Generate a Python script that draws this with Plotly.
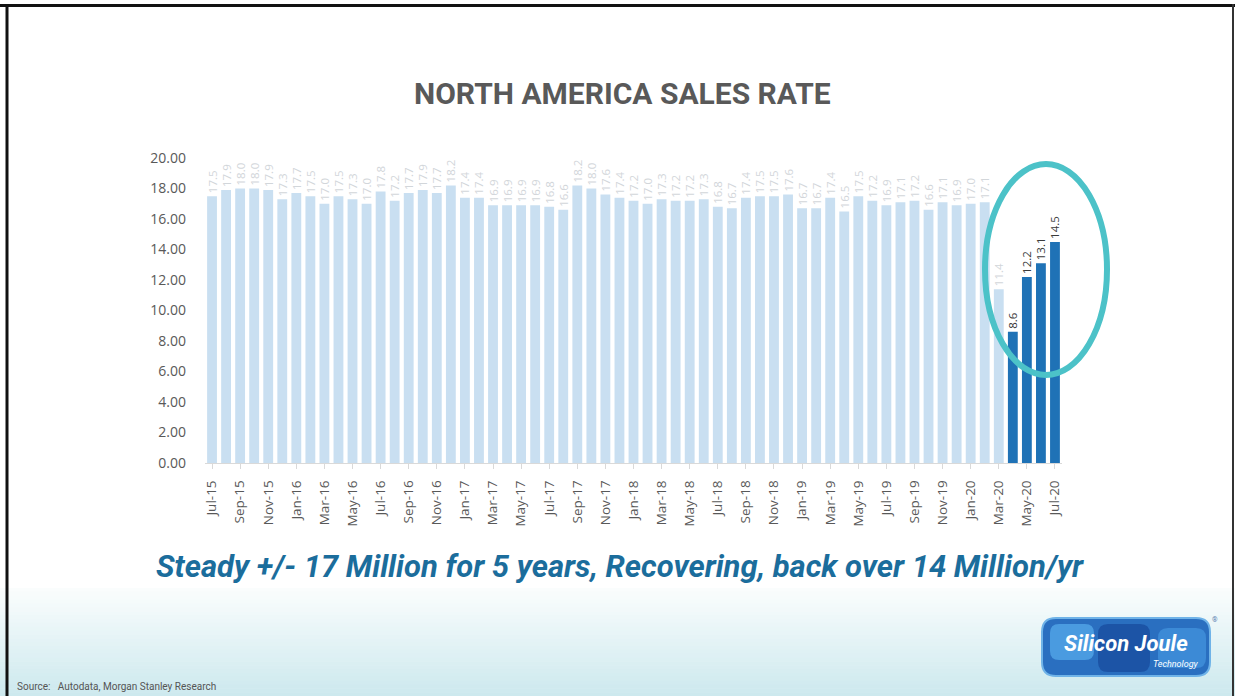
import plotly.graph_objects as go

months = ["Jul-15","Aug-15","Sep-15","Oct-15","Nov-15","Dec-15",
          "Jan-16","Feb-16","Mar-16","Apr-16","May-16","Jun-16","Jul-16","Aug-16","Sep-16","Oct-16","Nov-16","Dec-16",
          "Jan-17","Feb-17","Mar-17","Apr-17","May-17","Jun-17","Jul-17","Aug-17","Sep-17","Oct-17","Nov-17","Dec-17",
          "Jan-18","Feb-18","Mar-18","Apr-18","May-18","Jun-18","Jul-18","Aug-18","Sep-18","Oct-18","Nov-18","Dec-18",
          "Jan-19","Feb-19","Mar-19","Apr-19","May-19","Jun-19","Jul-19","Aug-19","Sep-19","Oct-19","Nov-19","Dec-19",
          "Jan-20","Feb-20","Mar-20","Apr-20","May-20","Jun-20","Jul-20"]
sales = [17.5,17.9,18.0,18.0,17.9,17.3,
         17.7,17.5,17.0,17.5,17.3,17.0,17.8,17.2,17.7,17.9,17.7,18.2,
         17.4,17.4,16.9,16.9,16.9,16.9,16.8,16.6,18.2,18.0,17.6,17.4,
         17.2,17.0,17.3,17.2,17.2,17.3,16.8,16.7,17.4,17.5,17.5,17.6,
         16.7,16.7,17.4,16.5,17.5,17.2,16.9,17.1,17.2,16.6,17.1,16.9,
         17.0,17.1,11.4,8.6,12.2,13.1,14.5]
highlight_months = ["Apr-20","May-20","Jun-20","Jul-20"]
tick_labels = months[::2]
y_ticks = [0,2,4,6,8,10,12,14,16,18,20]

LIGHT = "#c9dff1"
DARK = "#1f72b6"
bar_colors = [DARK if m in highlight_months else LIGHT for m in months]
text_colors = ["#3a3a3a" if m in highlight_months else "#d2d6da" for m in months]

L, R, T, B = 205, 173, 158, 233
W, H = 1235, 696
PW, PH = W - L - R, H - T - B

def px(x):
    return (x - L) / PW

def py(y):
    return (H - B - y) / PH

def rounded(x0, y0, x1, y1, r):
    # rounded rectangle path in paper coordinates (inputs in pixels)
    pts = [
        f"M {px(x0 + r)} {py(y0)}",
        f"L {px(x1 - r)} {py(y0)}",
        f"Q {px(x1)} {py(y0)} {px(x1)} {py(y0 + r)}",
        f"L {px(x1)} {py(y1 - r)}",
        f"Q {px(x1)} {py(y1)} {px(x1 - r)} {py(y1)}",
        f"L {px(x0 + r)} {py(y1)}",
        f"Q {px(x0)} {py(y1)} {px(x0)} {py(y1 - r)}",
        f"L {px(x0)} {py(y0 + r)}",
        f"Q {px(x0)} {py(y0)} {px(x0 + r)} {py(y0)} Z",
    ]
    return " ".join(pts)

fig = go.Figure()
fig.add_trace(go.Bar(
    x=months, y=sales,
    marker=dict(color=bar_colors, line=dict(width=0)),
    texttemplate="%{y:.1f}", textposition="outside", textangle=-90,
    textfont=dict(family="Open Sans", size=11.5, color=text_colors),
    constraintext="none", cliponaxis=False, hoverinfo="x+y",
))

shapes = []
# bottom gradient band
n = 28
y0, y1 = 588, 696
c_top, c_bot = (250, 253, 253), (205, 233, 238)
for i in range(n):
    f = i / (n - 1)
    col = tuple(round(c_top[k] + (c_bot[k] - c_top[k]) * f) for k in range(3))
    ya = y0 + (y1 - y0) * i / n
    yb = y0 + (y1 - y0) * (i + 1) / n + 0.5
    shapes.append(dict(type="rect", xref="paper", yref="paper", layer="below",
                       x0=px(0), x1=px(W), y0=py(ya), y1=py(yb),
                       fillcolor="rgb(%d,%d,%d)" % col, line=dict(width=0)))
# frame
shapes.append(dict(type="line", xref="paper", yref="paper", x0=px(0), x1=px(W), y0=py(5.5), y1=py(5.5),
                   line=dict(color="#111", width=3)))
shapes.append(dict(type="line", xref="paper", yref="paper", x0=px(7), x1=px(7), y0=py(4), y1=py(H),
                   line=dict(color="#111", width=3)))
shapes.append(dict(type="line", xref="paper", yref="paper", x0=px(1233), x1=px(1233), y0=py(4), y1=py(H),
                   line=dict(color="#333", width=2)))
# highlight ellipse
shapes.append(dict(type="circle", xref="paper", yref="paper",
                   x0=px(985), x1=px(1107), y0=py(375), y1=py(164),
                   line=dict(color="#4cc2c8", width=6)))
# logo blobs
shapes.append(dict(type="path", xref="paper", yref="paper", path=rounded(1042, 618, 1210, 676, 14),
                   fillcolor="#2a6fc0", line=dict(color="#6fb3e8", width=2)))
shapes.append(dict(type="path", xref="paper", yref="paper", path=rounded(1098, 624, 1150, 672, 10),
                   fillcolor="#1c54a6", line=dict(width=0)))
shapes.append(dict(type="path", xref="paper", yref="paper", path=rounded(1158, 628, 1206, 668, 10),
                   fillcolor="#3c8ad6", line=dict(width=0)))
shapes.append(dict(type="path", xref="paper", yref="paper", path=rounded(1050, 624, 1094, 660, 9),
                   fillcolor="#4a9be0", line=dict(width=0)))

annotations = [
    dict(text="<b>NORTH AMERICA SALES RATE</b>", x=px(622), y=py(93), xref="paper", yref="paper",
         showarrow=False, font=dict(family="Roboto", size=30, color="#595959"), xanchor="center", yanchor="middle"),
    dict(text="<b><i>Steady +/- 17 Million for 5 years, Recovering, back over 14 Million/yr</i></b>",
         x=px(620), y=py(566), xref="paper", yref="paper", showarrow=False,
         font=dict(family="Roboto", size=31, color="#1b6d9c"), xanchor="center", yanchor="middle"),
    dict(text="Source:   Autodata, Morgan Stanley Research", x=px(15), y=py(686), xref="paper", yref="paper",
         showarrow=False, font=dict(family="Roboto", size=10, color="#555"), xanchor="left", yanchor="middle"),
    dict(text="<b><i>Silicon Joule</i></b>", x=px(1126), y=py(643), xref="paper", yref="paper", showarrow=False,
         font=dict(family="Roboto", size=22, color="white"), xanchor="center", yanchor="middle"),
    dict(text="<i>Technology</i>", x=px(1176), y=py(664), xref="paper", yref="paper", showarrow=False,
         font=dict(family="Roboto", size=9, color="white"), xanchor="center", yanchor="middle"),
    dict(text="®", x=px(1215), y=py(620), xref="paper", yref="paper", showarrow=False,
         font=dict(family="Roboto", size=7, color="#5a7fb0"), xanchor="center", yanchor="middle"),
]

fig.update_layout(
    width=W, height=H,
    margin=dict(l=L, r=R, t=T, b=B),
    paper_bgcolor="white", plot_bgcolor="rgba(0,0,0,0)",
    bargap=0.3, showlegend=False,
    shapes=shapes, annotations=annotations,
    xaxis=dict(type="category", tickmode="array", tickvals=tick_labels, ticktext=tick_labels,
               tickangle=-90, tickfont=dict(family="Open Sans", size=13.5, color="#595959"),
               showline=True, linecolor="#d9d9d9", linewidth=1, ticks="outside", ticklen=5,
               tickcolor="#d9d9d9", showgrid=False, range=[-0.5, len(months) - 0.5],
               ticklabelstandoff=6),
    yaxis=dict(range=[0, 20], tickvals=y_ticks, tickformat=".2f",
               tickfont=dict(family="Open Sans", size=14, color="#595959"),
               showgrid=False, zeroline=False, showline=False, ticks="",
               ticklabelstandoff=18),
)

fig.write_html("out.html")
